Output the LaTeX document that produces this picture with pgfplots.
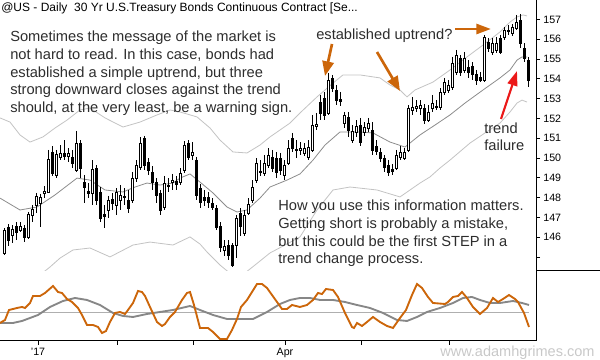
\documentclass[border=0pt]{standalone}
\usepackage{fontspec}
\setmainfont{Liberation Sans}
\usepackage{pgfplots}
\pgfplotsset{compat=1.18}
\usepackage{pgfplotstable}
\usetikzlibrary{arrows.meta}
\definecolor{ann}{RGB}{45,45,45}
\definecolor{org}{RGB}{204,102,10}
\definecolor{bandlt}{RGB}{195,195,195}
\definecolor{bandmd}{RGB}{140,140,140}
\definecolor{oscg}{RGB}{135,135,135}
\definecolor{zerol}{RGB}{175,175,175}
\definecolor{wm}{RGB}{200,200,200}
\definecolor{redarr}{RGB}{235,25,25}

\pgfplotstableread{
x o h l c
4 145.21 146.47 145.11 146.37
8 146.52 146.67 145.56 145.86
12 146.12 146.62 145.71 146.42
16 146.57 146.77 145.86 146.27
20 146.37 146.77 146.27 146.57
24 146.47 146.62 145.76 146.02
28 146.02 147.28 145.91 147.18
32 147.13 147.63 146.77 147.43
36 147.63 148.24 147.23 148.09
40 147.73 148.19 146.52 148.04
44 148.24 148.59 147.98 148.34
48 148.29 150.41 148.24 149.95
52 150.31 150.61 149.10 149.25
56 149.15 150.41 148.99 150.21
60 150.06 150.66 149.90 150.26
64 150.26 150.91 149.90 150.11
68 150.11 150.51 149.80 150.26
72 150.06 150.41 149.50 149.75
76 149.40 151.37 149.30 150.76
80 150.76 150.91 148.99 149.50
84 148.79 149.15 147.73 148.54
88 148.34 148.74 147.98 148.24
92 148.24 149.90 147.63 149.45
96 149.50 149.65 147.63 147.88
100 148.29 148.54 146.77 146.98
104 147.18 147.63 146.47 147.08
108 147.38 148.09 146.98 147.88
112 147.93 148.24 147.38 147.73
116 147.63 148.49 147.13 148.29
120 147.88 148.64 147.38 148.14
124 148.04 148.49 147.63 148.09
128 147.88 148.39 147.23 147.48
132 147.88 149.30 147.73 148.99
136 148.99 149.90 148.79 149.65
140 149.55 151.07 149.40 150.76
144 151.02 151.12 149.40 149.65
148 149.80 150.00 149.15 149.40
152 149.30 149.60 148.39 148.79
156 148.79 148.99 147.73 148.14
160 148.24 148.39 147.13 147.38
164 147.53 149.10 147.38 148.74
168 148.59 148.99 148.29 148.64
172 148.79 149.20 148.39 148.89
176 148.84 149.10 148.39 148.69
180 148.79 149.50 148.64 149.25
184 149.40 150.86 149.25 150.66
188 150.76 150.91 149.90 150.06
192 150.16 150.81 149.90 150.31
196 149.90 150.06 147.88 148.14
200 148.49 148.69 147.48 147.78
204 148.04 148.39 147.58 147.88
208 148.04 148.29 147.48 147.78
212 147.73 147.98 147.38 147.53
216 147.48 147.63 146.37 146.52
220 146.57 146.77 145.26 145.51
224 145.36 145.86 145.06 145.56
228 145.61 145.86 144.85 145.11
232 145.61 145.71 144.50 144.60
236 145.61 147.13 144.95 146.98
240 147.23 147.48 146.07 146.57
244 146.22 147.38 146.07 147.13
248 147.23 147.98 147.13 147.68
252 147.88 148.89 147.73 148.54
256 148.89 150.00 148.74 149.75
260 149.30 149.90 149.10 149.35
264 149.25 150.16 149.10 149.75
268 149.65 150.51 149.50 150.16
272 150.06 150.41 149.30 149.50
276 150.00 150.31 148.99 149.30
280 150.00 150.26 149.15 149.40
284 149.15 149.90 148.89 149.65
288 149.75 150.91 149.65 150.51
292 151.02 151.27 150.31 150.51
296 150.46 150.91 150.00 150.41
300 150.41 150.81 150.16 150.51
304 150.26 150.76 150.11 150.51
308 150.06 150.91 149.90 150.56
312 150.41 152.18 150.31 151.67
316 151.62 152.28 151.42 151.72
320 152.83 153.19 151.92 152.28
324 153.03 153.34 151.92 152.18
328 152.28 154.30 152.18 153.94
332 154.05 154.20 153.34 153.54
336 153.44 153.69 152.68 152.93
340 152.98 153.34 152.63 152.88
344 151.77 152.33 151.52 152.18
348 152.08 152.33 151.07 151.42
352 150.91 151.67 150.76 151.37
356 151.32 151.92 151.07 151.62
360 151.67 152.03 150.61 150.81
364 151.32 151.82 151.12 151.57
368 151.52 152.03 151.32 151.77
372 151.42 151.82 150.16 150.41
376 150.61 150.91 150.16 150.36
380 150.31 150.51 149.80 150.00
384 150.00 150.16 149.30 149.55
388 149.65 149.90 149.10 149.30
392 149.45 149.70 149.15 149.35
396 149.50 150.41 149.40 150.16
400 150.06 150.61 149.90 150.31
404 150.00 150.51 149.90 150.31
408 150.41 152.68 150.31 152.53
412 152.43 153.09 152.18 152.58
416 152.53 152.93 152.33 152.63
420 152.53 152.93 152.18 152.68
424 152.53 152.73 151.72 151.92
428 151.92 152.68 151.82 152.33
432 152.53 153.19 152.33 152.78
436 152.63 152.93 152.43 152.58
440 152.58 153.54 152.43 153.34
444 153.34 154.05 153.19 153.84
448 153.44 153.94 153.29 153.69
452 153.59 155.11 153.44 154.80
456 154.35 155.46 154.20 155.21
460 155.06 155.21 154.15 154.35
464 154.45 155.36 154.30 155.06
468 154.60 154.95 154.05 154.35
472 154.65 154.85 153.94 154.25
476 154.25 154.45 153.69 153.94
480 154.10 154.35 153.84 153.94
484 153.94 156.22 153.84 156.12
488 155.86 156.07 155.36 155.56
492 155.36 156.07 155.21 155.81
496 155.46 156.12 155.31 155.81
500 156.07 156.22 155.26 155.36
504 156.12 156.62 155.96 156.47
508 156.42 156.72 156.22 156.47
512 156.32 156.77 156.17 156.62
516 156.57 157.23 156.47 156.87
520 156.975 157.28 155.56 155.81
524 155.56 155.81 154.85 155.06
528 154.95 155.11 153.59 153.94
}\candles

\begin{document}
\begin{tikzpicture}
\path[use as bounding box] (0pt,0pt) rectangle (450pt,-270pt);

% ---------------- price panel ----------------
\begin{axis}[
  at={(0pt,-202.5pt)}, anchor=south west,
  scale only axis, width=402pt, height=202.5pt,
  xmin=0, xmax=536, ymin=144.349, ymax=157.985,
  axis x line=none, axis y line*=right,
  y axis line style={-, line width=0.75pt},
  ytick={145,146,...,157},
  yticklabels={,146,147,148,149,150,151,152,153,154,155,156,157},
  tick align=outside, major tick length=3pt,
  tick style={black, line width=0.75pt},
  yticklabel style={font=\fontsize{8}{9}\selectfont, anchor=west, xshift=-1pt},
  /pgf/number format/assume math mode=true,
]
\addplot[bandlt, line width=0.6pt] coordinates {
(0,152.03) (10,151.82) (20,151.17) (30,150.81) (43,151.07) (55,151.52) (67,151.92) (80,152.43) (90,152.53) (105,152.03) (123,151.57) (140,151.82) (157,152.18) (170,152.43) (180,152.33) (197,152.08) (210,151.52) (220,150.91) (233,150.31) (247,150.26) (260,150.66) (270,151.07) (290,151.77) (300,152.28) (317,153.09) (333,153.79) (343,154.20) (360,154.20) (380,154.05) (390,153.69) (400,153.44) (407,153.09) (415,153.44) (433,153.84) (450,154.45) (467,155.11) (483,155.71) (500,156.37) (510,156.87) (517,157.13) (523,157.23) (527,157.18)
};
\addplot[bandmd, line width=0.6pt] coordinates {
(0,147.98) (20,147.38) (37,147.53) (55,148.14) (77,148.99) (90,148.89) (105,148.39) (123,148.29) (135,148.54) (147,148.74) (160,148.64) (173,148.74) (180,148.99) (190,149.20) (200,148.79) (213,148.24) (227,147.53) (237,147.28) (247,147.38) (260,147.98) (270,148.54) (287,148.89) (300,149.20) (313,149.90) (325,150.66) (340,151.32) (360,151.32) (373,151.27) (390,150.81) (405,150.56) (420,151.17) (435,151.67) (450,152.18) (465,152.78) (483,153.44) (500,154.05) (510,154.45) (517,154.95) (522,155.11) (527,155.11)
};
\addplot[bandlt, line width=0.6pt] coordinates {
(40,144.10) (50,144.50) (60,144.95) (73,145.36) (90,145.46) (110,145.01) (133,145.61) (150,145.76) (173,145.61) (190,146.02) (200,145.66) (207,145.26) (220,144.60) (232,144.10) (245,144.20) (255,144.60) (270,145.21) (285,145.61) (300,146.02) (317,147.38) (333,148.39) (350,148.54) (377,148.39) (400,148.04) (420,148.74) (430,149.05) (440,149.50) (450,149.90) (470,150.76) (485,151.27) (500,151.77) (510,152.33) (517,152.78) (522,152.93) (527,152.83)
};
\addplot[scatter, only marks, mark=*, mark size=0pt,
  mark options={draw=none, fill=none},
  point meta=explicit,
  visualization depends on={\thisrow{o}-\thisrow{c} \as \dO},
  visualization depends on={\thisrow{h}-\thisrow{c} \as \dH},
  visualization depends on={\thisrow{l}-\thisrow{c} \as \dL},
  scatter/@pre marker code/.code={%
    \draw[black, line width=0.6pt] (axis direction cs:0,\dH) -- (axis direction cs:0,\dL);
    \pgfmathparse{\dO>0}%
    \ifdim\pgfmathresult pt>0.5pt
      \filldraw[draw=black, fill=black, line width=0.6pt] (axis direction cs:-1.1,0) rectangle (axis direction cs:1.1,\dO);
    \else
      \filldraw[draw=black, fill=white, line width=0.6pt] (axis direction cs:-1.1,0) rectangle (axis direction cs:1.1,\dO);
    \fi
  },
  scatter/@post marker code/.code={},
] table[x=x, y=c, meta=c] {\candles};
\end{axis}

% ---------------- oscillator panel ----------------
\begin{axis}[
  at={(0pt,-255.5pt)}, anchor=south west,
  scale only axis, width=402pt, height=53pt,
  xmin=0, xmax=536, ymin=-28.7, ymax=42,
  axis y line=none, axis x line*=bottom,
  x axis line style={-, line width=0.75pt},
  xtick={38,117,193,285,361,449},
  xticklabels={{'17},,,Apr,,},
  tick align=outside, major tick length=3pt,
  tick style={black, line width=0.75pt},
  xticklabel style={font=\fontsize{8}{9}\selectfont, yshift=1pt},
  /pgf/number format/assume math mode=true,
]
\addplot[zerol, line width=0.6pt] coordinates {(0,0) (529,0)};
\addplot[oscg, line width=1.4pt] coordinates {
(0,-11) (13,-11) (22,-9) (30,-6) (38,-3) (50,5) (63,11) (75,14) (87,12) (100,7) (113,-1) (123,-4) (133,-5) (147,-2) (160,0) (173,2) (190,6) (200,2) (213,-3) (227,-7) (240,-7) (253,-7) (267,0) (280,8) (290,12) (300,14) (310,14) (320,12) (333,12) (345,10) (357,7) (370,4) (383,-1) (397,-8) (407,-9) (417,-5) (427,0) (440,4) (453,9) (463,14) (472,15) (480,12) (490,9) (500,9) (513,11) (522,9) (529,7)
};
\addplot[org, line width=1.4pt] coordinates {
(0,-11) (5,-8) (9,2) (17,4) (22,5) (25,4) (30,9) (33,16) (40,16) (45,19) (53,26) (58,20) (62,19) (67,13) (72,10) (78,4) (82,-3) (87,-13) (93,-13) (98,-15) (102,-21) (106,-19) (110,-10) (115,-1) (120,0) (125,-2) (128,2) (133,9) (138,21) (142,20) (145,16) (150,5) (157,-10) (162,-14) (165,-12) (170,-5) (175,0) (182,12) (187,19) (190,20) (194,7) (200,-16) (208,-16) (213,-20) (220,-27) (227,-27) (232,-18) (237,-7) (241,5) (247,12) (252,20) (257,28) (262,28) (267,24) (272,17) (277,10) (282,3) (287,3) (292,7) (300,5) (307,7) (313,12) (318,19) (322,18) (326,23) (333,22) (338,15) (345,-1) (352,-15) (354,-16) (357,-11) (362,-14) (367,-10) (373,-5) (380,-10) (387,-14) (393,-16) (400,-6) (406,2) (412,17) (417,28) (422,24) (428,15) (433,9) (445,8) (448,10) (453,15) (458,16) (462,20) (467,14) (473,5) (480,-2) (487,4) (493,14) (498,10) (503,13) (509,17) (515,13) (518,10) (524,-1) (529,-15)
};
\end{axis}

% ---------------- frame pieces and annotations ----------------
\begin{scope}[x=0.75pt, y=-0.75pt]
  \draw[black, line width=0.75pt] (536,0) -- (536,340.7);
  \draw[black, line width=0.75pt] (536,270) -- (600,270);

  \node[anchor=base west, inner sep=0, text=black, font=\fontsize{9}{10}\selectfont] at (1,11.5) {@US - Daily~~30 Yr U.S.Treasury Bonds Continuous Contract [Se...};

  \begin{scope}[every node/.style={anchor=base west, inner sep=0, text=ann, font=\fontsize{11}{13}\selectfont}]
    \node at (10,41.7) {Sometimes the message of the market is};
    \node at (10,59.4) {not hard to read. In this case, bonds had};
    \node at (10,77.1) {established a simple uptrend, but three};
    \node at (10,94.8) {strong downward closes against the trend};
    \node at (10,112.5) {should, at the very least, be a warning sign.};
    \node at (316,39.3) {established uptrend?};
    \node at (484,133.3) {trend};
    \node at (484,150.7) {failure};
    \node at (278,210.7) {How you use this information matters.};
    \node at (278,228.4) {Getting short is probably a mistake,};
    \node at (278,246.1) {but this could be the first STEP in a};
    \node at (278,263.8) {trend change process.};
  \end{scope}

  \node[anchor=base west, inner sep=0, text=wm, font=\fontsize{10.9}{12}\selectfont] at (440,356) {www.adamhgrimes.com};

  \draw[org, line width=2pt, -{Triangle[length=11pt, width=8.5pt]}] (332,44) -- (325,76);
  \draw[org, line width=2pt, -{Triangle[length=11pt, width=8.5pt]}] (377,52) -- (400,91);
  \draw[org, line width=2pt, -{Triangle[length=11pt, width=7.5pt]}] (455,29) -- (491,29);
  \draw[redarr, line width=1.6pt, -{Triangle[length=11pt, width=7.5pt]}] (501,119) -- (517,71);
\end{scope}
\end{tikzpicture}
\end{document}
